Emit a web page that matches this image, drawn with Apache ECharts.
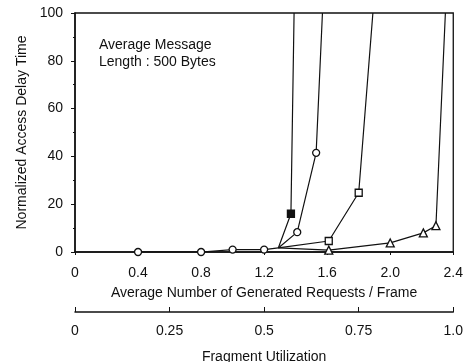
<!DOCTYPE html>
<html>
<head>
<meta charset="utf-8">
<script src="https://cdn.jsdelivr.net/npm/echarts@6/dist/echarts.min.js"></script>
<style>
  html, body { margin: 0; padding: 0; background: #fff; }
  #chart { width: 466px; height: 362px; }
</style>
</head>
<body>
<div id="chart"></div>
<script>
  // shared low-load points (circles), then the four curves fanning out from the junction
  const sharedPts = [[0.4, 0], [0.8, 0], [1.0, 1], [1.2, 1], [1.29, 1.7]];
  const filledSq = [[1.29, 1.7], [1.37, 16], [1.39, 100]];
  const circles = [[1.29, 1.7], [1.41, 8.3], [1.53, 41.5], [1.57, 100]];
  const openSq = [[1.29, 1.7], [1.61, 4.6], [1.80, 24.8], [1.89, 100]];
  const triangles = [[1.29, 1.7], [1.61, 0.8], [2.0, 3.8], [2.21, 8], [2.29, 11], [2.35, 100]];
  const yTicks = [0, 20, 40, 60, 80, 100];
  const fragTicks = [0, 0.25, 0.5, 0.75, 1.0];
  const junctionX = 1.29;

  const FONT = "Liberation Sans";
  const ink = "#111";
  const chart = echarts.init(document.getElementById("chart"));

  // no marker at the junction or on the off-scale end point
  const marks = (pts, sym, fill) => pts.map(p => ({
    value: p,
    symbol: (p[0] === junctionX || p[1] >= 100) ? "none" : sym,
    itemStyle: { color: fill, borderColor: ink, borderWidth: 1.3 },
  }));

  const lineSeries = (name, pts, sym, fill, size) => ({
    name, type: "line", data: marks(pts, sym, fill), symbolSize: size,
    lineStyle: { color: ink, width: 1.2 }, z: 3,
  });

  chart.setOption({
    animation: false,
    textStyle: { fontFamily: FONT, color: ink },
    grid: [
      { left: 75, right: 8, top: 13, bottom: 110, show: true, borderColor: ink, borderWidth: 1.3 },
      { left: 75, right: 4, top: 312, height: 0 },
    ],
    xAxis: [
      {
        type: "value", gridIndex: 0, min: 0, max: 2.4, interval: 0.4,
        name: "Average Number of Generated Requests / Frame", nameLocation: "middle", nameGap: 34,
        nameTextStyle: { fontFamily: FONT, fontSize: 14, color: ink },
        axisLine: { lineStyle: { color: ink, width: 1.5 } },
        axisTick: { length: 3, lineStyle: { color: ink } },
        axisLabel: { fontFamily: FONT, fontSize: 14, color: ink, margin: 14,
          formatter: v => v === 0 ? "0" : v.toFixed(1) },
        splitLine: { show: false },
      },
      {
        type: "value", gridIndex: 1, min: 0, max: 1, interval: 0.25,
        name: "Fragment Utilization", nameLocation: "middle", nameGap: 38,
        nameTextStyle: { fontFamily: FONT, fontSize: 14, color: ink },
        axisLine: { lineStyle: { color: ink, width: 1.5 } },
        axisTick: { inside: true, length: 5, lineStyle: { color: ink } },
        axisLabel: { fontFamily: FONT, fontSize: 14, color: ink, margin: 12,
          formatter: v => fragTicks.includes(v) ? (v === 0 ? "0" : v === 1 ? "1.0" : String(v)) : "" },
        splitLine: { show: false },
      },
    ],
    yAxis: [
      {
        type: "value", gridIndex: 0, min: yTicks[0], max: yTicks[yTicks.length - 1], interval: 20,
        name: "Normalized Access Delay Time", nameLocation: "middle", nameGap: 46,
        nameTextStyle: { fontFamily: FONT, fontSize: 14, color: ink },
        axisLine: { show: true, lineStyle: { color: ink, width: 1.5 } },
        axisTick: { length: 4, lineStyle: { color: ink } },
        minorTick: { show: true, splitNumber: 2, length: 2, lineStyle: { color: ink } },
        axisLabel: { fontFamily: FONT, fontSize: 14, color: ink, margin: 12 },
        splitLine: { show: false },
      },
      { type: "value", gridIndex: 1, show: false },
    ],
    graphic: [{
      type: "text", left: 99, top: 37,
      style: {
        text: "Average Message\nLength : 500 Bytes",
        font: `14px "${FONT}"`, fill: ink, lineHeight: 17,
      },
    }],
    series: [
      lineSeries("shared", sharedPts, "circle", "#fff", 7),
      lineSeries("filled square", filledSq, "rect", ink, 7),
      lineSeries("circle", circles, "circle", "#fff", 7),
      lineSeries("open square", openSq, "rect", "#fff", 7),
      lineSeries("triangle", triangles, "triangle", "#fff", 8),
    ],
  });
</script>
</body>
</html>
